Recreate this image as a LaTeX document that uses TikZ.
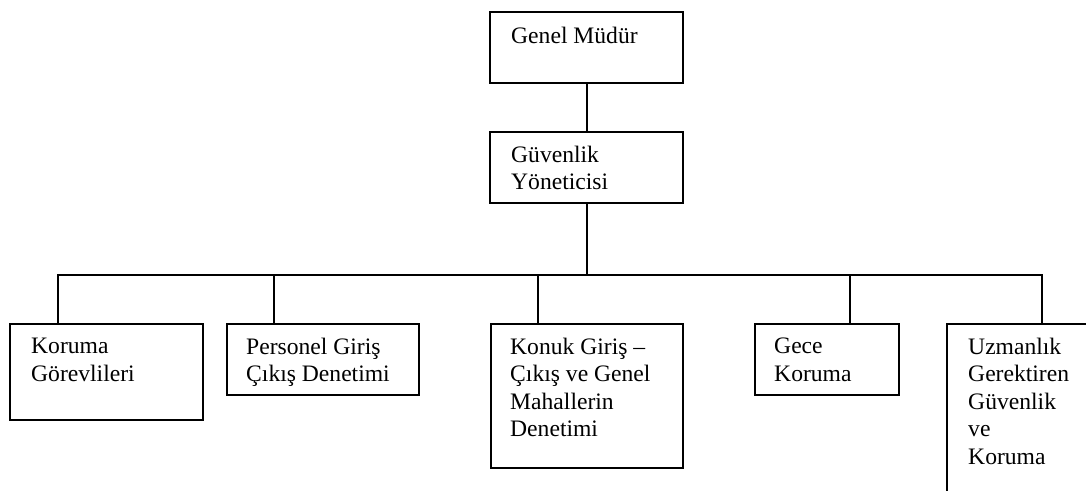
\documentclass[tikz,border=0pt]{standalone}
\usepackage{fontspec}
\setmainfont{Liberation Serif}
\begin{document}
\begin{tikzpicture}[x=1pt,y=-1pt,
  orgbox/.style={draw=black,line width=2.4pt,inner sep=0pt,anchor=north west},
  orgtext/.style={inner sep=0pt,anchor=north west,align=left,
    font=\fontsize{23.6}{27.4}\selectfont},
  link/.style={draw=black,line width=2.4pt,line cap=rect,line join=miter}]
\clip (0,0) rectangle (1086,490);
\fill[white] (0,0) rectangle (1086,490);
% boxes
\node[orgbox,minimum width=193pt,minimum height=71pt] (GM) at (489,11) {};
\node[orgbox,minimum width=193pt,minimum height=71pt] (GY) at (489,131) {};
\node[orgbox,minimum width=193pt,minimum height=96pt] (K1) at (9,323) {};
\node[orgbox,minimum width=192pt,minimum height=71pt] (K2) at (226,323) {};
\node[orgbox,minimum width=192pt,minimum height=144pt] (K3) at (490,323) {};
\node[orgbox,minimum width=144pt,minimum height=71pt] (K4) at (754,323) {};
\node[orgbox,minimum width=200pt,minimum height=220pt] (K5) at (946,323) {};
% texts
\node[orgtext] (GMt) at ([shift={(22,16)}]GM.north west) {Genel Müdür};
\node[orgtext] (GYt) at ([shift={(22,15)}]GY.north west) {Güvenlik\\Yöneticisi};
\node[orgtext] (K1t) at ([shift={(22,15)}]K1.north west) {Koruma\\Görevlileri};
\node[orgtext] (K2t) at ([shift={(20,15)}]K2.north west) {Personel Giriş\\Çıkış Denetimi};
\node[orgtext] (K3t) at ([shift={(20,15)}]K3.north west) {Konuk Giriş –\\Çıkış ve Genel\\Mahallerin\\Denetimi};
\node[orgtext] (K4t) at ([shift={(20,15)}]K4.north west) {Gece\\Koruma};
\node[orgtext] (K5t) at ([shift={(22,15)}]K5.north west) {Uzmanlık\\Gerektiren\\Güvenlik\\ve\\Koruma};
% connectors
\coordinate (bus) at (GY.south |- 0,275);
\draw[link] (GM.south) -- (GY.north);
\draw[link] (GY.south) -- (bus);
\draw[link] ([xshift=49pt]K1.north west) |- (bus);
\draw[link] ([xshift=48pt]K2.north west) |- (bus);
\draw[link] ([xshift=48pt]K3.north west) |- (bus);
\draw[link] ([xshift=96pt]K4.north west) |- (bus);
\draw[link] ([xshift=96pt]K5.north west) |- (bus);
\end{tikzpicture}
\end{document}
